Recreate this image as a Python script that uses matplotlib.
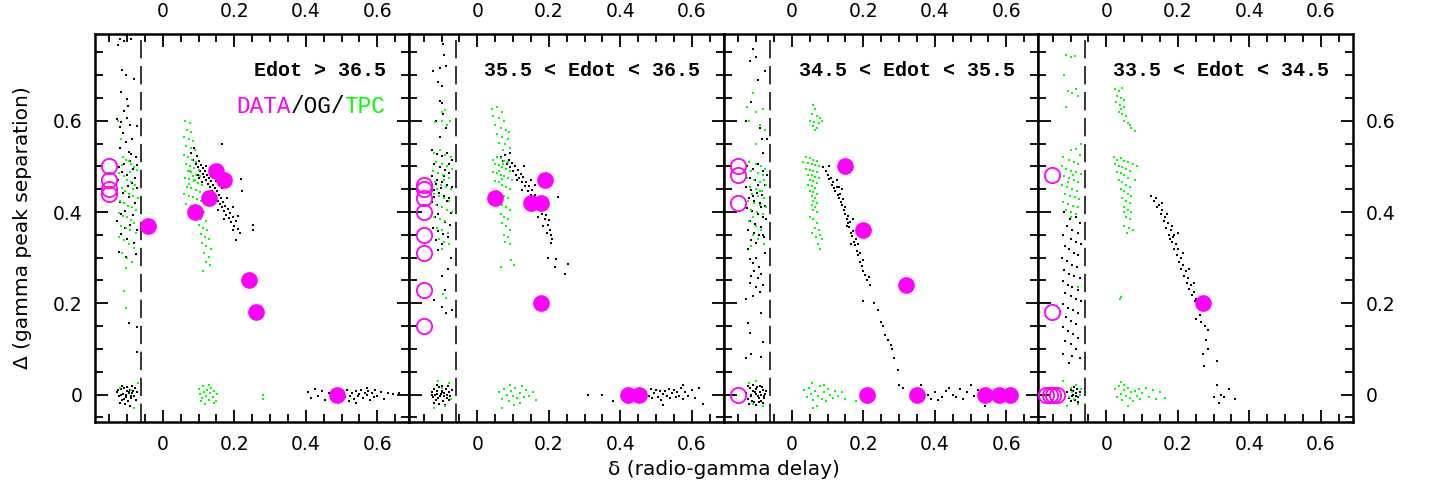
import matplotlib
matplotlib.use("Agg")
import matplotlib.pyplot as plt
from matplotlib.ticker import MultipleLocator, FuncFormatter

panel_titles = ["Edot > 36.5", "35.5 < Edot < 36.5", "34.5 < Edot < 35.5", "33.5 < Edot < 34.5"]

# ---- observed pulsars (DATA): filled = radio loud, open = radio quiet (plotted left of dashed line)
data1_fill = [(-0.042, 0.37), (0.091, 0.40), (0.13, 0.43), (0.149, 0.49), (0.17, 0.47),
              (0.24, 0.25), (0.26, 0.18), (0.488, 0.0)]
data1_open = [(-0.15, 0.50), (-0.15, 0.47), (-0.15, 0.45), (-0.15, 0.44)]
data2_fill = [(0.05, 0.43), (0.149, 0.42), (0.179, 0.42), (0.19, 0.47), (0.179, 0.20),
              (0.422, 0.0), (0.451, 0.0)]
data2_open = [(-0.15, 0.46), (-0.15, 0.45), (-0.15, 0.43), (-0.15, 0.40), (-0.15, 0.35),
              (-0.15, 0.31), (-0.15, 0.23), (-0.15, 0.15)]
data3_fill = [(0.15, 0.50), (0.20, 0.36), (0.32, 0.24), (0.21, 0.0), (0.35, 0.0),
              (0.54, 0.0), (0.58, 0.0), (0.61, 0.0)]
data3_open = [(-0.15, 0.50), (-0.15, 0.48), (-0.15, 0.42), (-0.15, 0.0)]
data4_fill = [(0.27, 0.20)]
data4_open = [(-0.152, 0.48), (-0.152, 0.18), (-0.168, 0.0), (-0.158, 0.0), (-0.148, 0.0), (-0.138, 0.0)]

# ---- Edot > 36.5 simulated
og1_left = [(-0.12,0.78),(-0.11,0.775),(-0.10,0.785),(-0.125,0.765),(-0.09,0.78),(-0.113,0.712),(-0.104,0.70),
            (-0.082,0.692),(-0.117,0.662),(-0.10,0.648),(-0.098,0.633),(-0.11,0.622),(-0.128,0.603),(-0.116,0.598),
            (-0.101,0.606),(-0.121,0.586),(-0.092,0.591),(-0.072,0.589),(-0.111,0.572),(-0.104,0.553),(-0.087,0.561),
            (-0.119,0.541),(-0.096,0.532),(-0.076,0.521),(-0.091,0.512),(-0.109,0.506),(-0.124,0.498),(-0.083,0.494),
            (-0.071,0.502),(-0.101,0.482),(-0.126,0.471),(-0.086,0.463),(-0.073,0.452),(-0.112,0.441),(-0.094,0.432),
            (-0.121,0.421),(-0.077,0.419),(-0.106,0.402),(-0.084,0.394),(-0.127,0.381),(-0.091,0.372),(-0.071,0.361),
            (-0.116,0.352),(-0.099,0.341),(-0.081,0.332),(-0.122,0.312),(-0.075,0.308),(-0.102,0.301),(-0.113,0.488),
            (-0.097,0.458),(-0.118,0.395),(-0.088,0.527),(-0.105,0.365),(-0.079,0.475),(-0.096,0.156),(-0.072,0.148),
            (-0.071,0.094)]
og1_zero_left = [(-0.128,0.005),(-0.122,-0.004),(-0.118,0.012),(-0.115,-0.012),(-0.111,0.002),(-0.108,0.015),
                 (-0.104,-0.006),(-0.101,0.008),(-0.097,-0.015),(-0.094,0.003),(-0.091,0.011),(-0.088,-0.008),
                 (-0.085,0.004),(-0.082,-0.002),(-0.079,0.014),(-0.076,-0.011),(-0.073,0.006),(-0.12,-0.018),
                 (-0.113,0.019),(-0.106,-0.021),(-0.099,0.016),(-0.093,-0.024),(-0.087,0.018),(-0.125,0.010),
                 (-0.117,-0.001),(-0.109,-0.009),(-0.102,0.000),(-0.096,0.006),(-0.089,-0.003),(-0.083,0.009)]
og1_mid = [(0.080,0.530),(0.085,0.515),(0.088,0.540),(0.092,0.505),(0.095,0.522),(0.098,0.498),(0.102,0.512),
           (0.105,0.490),(0.108,0.503),(0.111,0.484),(0.113,0.497),(0.116,0.476),(0.118,0.489),(0.121,0.470),
           (0.124,0.482),(0.126,0.462),(0.129,0.474),(0.132,0.455),(0.135,0.468),(0.137,0.447),(0.140,0.460),
           (0.143,0.440),(0.146,0.452),(0.148,0.432),(0.151,0.445),(0.154,0.425),(0.157,0.437),(0.160,0.418),
           (0.163,0.430),(0.166,0.410),(0.169,0.422),(0.172,0.402),(0.175,0.414),(0.178,0.394),(0.181,0.406),
           (0.184,0.386),(0.188,0.398),(0.192,0.378),(0.196,0.388),(0.200,0.370),(0.205,0.380),(0.210,0.362),
           (0.215,0.355),(0.150,0.468),(0.165,0.452),(0.180,0.430),(0.195,0.410),(0.210,0.392),(0.130,0.440),
           (0.110,0.465),(0.166,0.548),(0.219,0.472),(0.222,0.445),(0.251,0.371),(0.251,0.360),(0.100,0.475),
           (0.140,0.428),(0.197,0.360),(0.205,0.338),(0.170,0.385),(0.155,0.405),(0.120,0.500),(0.097,0.480)]
og1_zero_right = [(0.405,0.005),(0.415,-0.008),(0.425,0.012),(0.435,-0.003),(0.445,0.008),(0.455,-0.012),
                  (0.465,0.003),(0.50,0.006),(0.51,-0.006),(0.515,0.010),(0.525,-0.002),(0.53,0.004),(0.535,-0.010),
                  (0.54,0.007),(0.545,-0.004),(0.55,0.002),(0.555,0.011),(0.56,-0.007),(0.565,0.004),(0.57,-0.001),
                  (0.575,0.009),(0.58,-0.012),(0.585,0.003),(0.59,-0.005),(0.595,0.010),(0.60,-0.002),(0.61,0.006),
                  (0.62,-0.009),(0.63,0.004),(0.645,0.001),(0.66,0.003),(0.54,-0.018),(0.57,0.015),(0.52,-0.015)]
tpc1_left = [(-0.125,0.600),(-0.118,0.560),(-0.112,0.520),(-0.104,0.515),(-0.096,0.512),(-0.088,0.505),(-0.08,0.498),
             (-0.073,0.492),(-0.122,0.485),(-0.11,0.478),(-0.1,0.47),(-0.09,0.465),(-0.078,0.46),(-0.115,0.452),
             (-0.106,0.445),(-0.094,0.44),(-0.084,0.435),(-0.07,0.43),(-0.12,0.425),(-0.108,0.42),(-0.098,0.414),
             (-0.086,0.41),(-0.076,0.405),(-0.124,0.398),(-0.112,0.392),(-0.1,0.388),(-0.09,0.382),(-0.08,0.376),
             (-0.118,0.37),(-0.104,0.365),(-0.092,0.36),(-0.074,0.355),(-0.122,0.345),(-0.11,0.338),(-0.096,0.33),
             (-0.082,0.322),(-0.114,0.31),(-0.1,0.3),(-0.086,0.29),(-0.102,0.278),(-0.109,0.226),(-0.103,0.19),
             (-0.092,0.487),(-0.115,0.502),(-0.083,0.45),(-0.128,0.44)]
tpc1_mid = [(0.062,0.600),(0.075,0.595),(0.068,0.58),(0.08,0.575),(0.058,0.565),(0.072,0.56),(0.085,0.555),
            (0.064,0.545),(0.078,0.54),(0.09,0.535),(0.06,0.525),(0.07,0.52),(0.082,0.515),(0.094,0.51),(0.066,0.505),
            (0.076,0.5),(0.088,0.497),(0.1,0.492),(0.07,0.49),(0.08,0.487),(0.092,0.482),(0.104,0.478),(0.062,0.475),
            (0.074,0.472),(0.086,0.468),(0.098,0.463),(0.11,0.46),(0.068,0.455),(0.08,0.452),(0.092,0.448),
            (0.104,0.444),(0.058,0.44),(0.072,0.436),(0.084,0.432),(0.096,0.428),(0.108,0.424),(0.066,0.418),
            (0.078,0.414),(0.09,0.41),(0.102,0.405),(0.114,0.4),(0.082,0.395),(0.096,0.39),(0.108,0.385),(0.12,0.38),
            (0.1,0.372),(0.112,0.365),(0.124,0.36),(0.106,0.352),(0.118,0.345),(0.13,0.34),(0.11,0.332),(0.122,0.325),
            (0.134,0.318),(0.116,0.31),(0.128,0.302),(0.12,0.29),(0.132,0.285),(0.112,0.27),(0.075,0.49),(0.085,0.478),
            (0.072,0.462),(0.09,0.47)]
tpc1_zero = [(0.100,0.012),(0.105,0.002),(0.11,-0.008),(0.112,0.018),(0.116,0.006),(0.12,-0.004),(0.124,0.01),
             (0.128,-0.012),(0.132,0.003),(0.136,0.015),(0.14,-0.006),(0.144,0.007),(0.148,-0.015),(0.152,0.002),
             (0.118,-0.02),(0.13,0.02),(0.142,-0.018),(0.108,-0.014),(0.28,0.0),(0.28,-0.01),(-0.07,0.025),
             (-0.08,-0.03),(-0.12,0.015),(-0.09,0.01)]

# ---- 35.5 < Edot < 36.5 simulated
og2_left = [(-0.124,0.709),(-0.105,0.716),(-0.093,0.744),(-0.096,0.767),(-0.089,0.72),(-0.11,0.684),(-0.1,0.676),
            (-0.105,0.644),(-0.098,0.638),(-0.096,0.615),(-0.087,0.585),(-0.105,0.564),(-0.115,0.60),
            (-0.126,0.535),(-0.112,0.528),(-0.098,0.522),(-0.084,0.530),(-0.072,0.515),(-0.12,0.505),(-0.105,0.498),
            (-0.09,0.492),(-0.078,0.486),(-0.128,0.478),(-0.114,0.47),(-0.1,0.466),(-0.086,0.46),(-0.071,0.455),
            (-0.122,0.448),(-0.108,0.442),(-0.094,0.436),(-0.08,0.43),(-0.126,0.422),(-0.112,0.416),(-0.098,0.41),
            (-0.084,0.404),(-0.074,0.398),(-0.118,0.39),(-0.104,0.384),(-0.09,0.378),(-0.076,0.372),(-0.124,0.365),
            (-0.11,0.358),(-0.096,0.352),(-0.082,0.346),(-0.116,0.338),(-0.1,0.33),(-0.086,0.425),(-0.117,0.462),
            (-0.103,0.452),(-0.092,0.478),(-0.079,0.505),(-0.11,0.395),(-0.121,0.432),(-0.11,0.316),(-0.082,0.276),
            (-0.1,0.26),(-0.091,0.229),(-0.12,0.207),(-0.1,0.193),(-0.087,0.178),(-0.072,0.185),(-0.075,0.30)]
og2_zero_left = [(-0.128,0.006),(-0.124,-0.006),(-0.12,0.012),(-0.116,-0.012),(-0.112,0.002),(-0.108,0.016),
                 (-0.104,-0.004),(-0.1,0.009),(-0.096,-0.014),(-0.092,0.004),(-0.088,0.013),(-0.084,-0.008),
                 (-0.08,0.006),(-0.076,-0.002),(-0.072,0.01),(-0.122,-0.018),(-0.114,0.02),(-0.106,-0.02),
                 (-0.098,0.018),(-0.09,-0.022),(-0.082,0.018),(-0.118,0.0),(-0.11,-0.008),(-0.102,0.001),
                 (-0.094,-0.004),(-0.086,0.0),(-0.078,-0.012),(-0.126,0.0),(-0.099,0.005),(-0.113,0.009)]
og2_mid = [(0.065,0.52),(0.072,0.512),(0.078,0.525),(0.083,0.505),(0.088,0.515),(0.092,0.498),(0.097,0.508),
           (0.101,0.49),(0.105,0.5),(0.109,0.482),(0.113,0.492),(0.117,0.474),(0.121,0.484),(0.125,0.465),
           (0.129,0.476),(0.133,0.456),(0.137,0.466),(0.141,0.447),(0.145,0.457),(0.149,0.437),(0.153,0.448),
           (0.157,0.428),(0.161,0.438),(0.165,0.418),(0.169,0.428),(0.173,0.408),(0.177,0.418),(0.181,0.396),
           (0.185,0.406),(0.189,0.384),(0.193,0.394),(0.197,0.372),(0.2,0.382),(0.203,0.36),(0.206,0.35),(0.21,0.34),
           (0.205,0.332),(0.195,0.355),(0.183,0.37),(0.17,0.39),(0.155,0.41),(0.14,0.43),(0.125,0.448),(0.11,0.47),
           (0.197,0.30),(0.22,0.298),(0.216,0.28),(0.244,0.265),(0.253,0.287),(0.225,0.433),(0.13,0.5),(0.15,0.47),
           (0.16,0.46),(0.09,0.53)]
og2_zero_right = [(0.31,0.0),(0.35,0.0),(0.38,-0.013),(0.44,0.003),(0.455,-0.01),(0.47,0.008),(0.48,-0.003),
                  (0.485,0.012),(0.49,-0.008),(0.495,0.004),(0.5,0.01),(0.505,-0.005),(0.51,0.007),(0.515,-0.012),
                  (0.52,0.002),(0.525,0.009),(0.53,-0.004),(0.535,0.013),(0.54,-0.008),(0.545,0.003),(0.55,0.011),
                  (0.555,-0.006),(0.56,0.005),(0.565,-0.002),(0.57,0.014),(0.575,-0.01),(0.58,0.006),(0.59,-0.004),
                  (0.6,0.01),(0.61,-0.008),(0.62,0.015),(0.63,-0.02),(0.52,-0.022),(0.575,0.02)]
tpc2_left = [(-0.1,0.62),(-0.091,0.624),(-0.077,0.6),(-0.118,0.597),(-0.086,0.59),(-0.1,0.6),
             (-0.12,0.53),(-0.105,0.535),(-0.09,0.525),(-0.075,0.52),(-0.115,0.51),(-0.1,0.505),(-0.085,0.5),
             (-0.07,0.495),(-0.125,0.49),(-0.11,0.485),(-0.095,0.48),(-0.08,0.475),(-0.118,0.465),(-0.103,0.46),
             (-0.088,0.455),(-0.073,0.45),(-0.122,0.44),(-0.107,0.435),(-0.092,0.43),(-0.078,0.425),(-0.115,0.415),
             (-0.1,0.41),(-0.085,0.405),(-0.07,0.4),(-0.12,0.39),(-0.105,0.385),(-0.09,0.38),(-0.113,0.365),
             (-0.098,0.36),(-0.083,0.355),(-0.107,0.34),(-0.092,0.335),(-0.078,0.33),(-0.1,0.32),(-0.096,0.22),
             (-0.087,0.212),(-0.094,0.47),(-0.112,0.45)]
tpc2_mid = [(0.04,0.625),(0.055,0.63),(0.07,0.62),(0.045,0.61),(0.06,0.605),(0.075,0.6),(0.05,0.59),(0.065,0.585),
            (0.08,0.58),(0.088,0.575),(0.055,0.57),(0.07,0.565),(0.085,0.56),(0.06,0.552),(0.078,0.548),(0.09,0.54),
            (0.072,0.535),(0.045,0.515),(0.055,0.52),(0.065,0.518),(0.075,0.512),(0.085,0.51),(0.05,0.505),
            (0.06,0.502),(0.07,0.498),(0.08,0.495),(0.092,0.49),(0.045,0.488),(0.055,0.485),(0.065,0.482),
            (0.075,0.478),(0.085,0.475),(0.098,0.47),(0.05,0.468),(0.06,0.465),(0.07,0.46),(0.08,0.455),(0.09,0.45),
            (0.055,0.445),(0.065,0.44),(0.075,0.435),(0.085,0.43),(0.06,0.42),(0.07,0.415),(0.08,0.41),(0.09,0.405),
            (0.065,0.395),(0.075,0.39),(0.085,0.385),(0.07,0.375),(0.08,0.37),(0.09,0.36),(0.075,0.35),(0.085,0.345),
            (0.078,0.335),(0.09,0.33),(0.067,0.28),(0.095,0.295),(0.103,0.285),(0.06,0.49),(0.072,0.505),(0.068,0.472)]
tpc2_zero = [(0.06,0.005),(0.068,-0.01),(0.075,0.012),(0.082,0.0),(0.088,-0.015),(0.095,0.008),(0.1,-0.004),
             (0.106,0.015),(0.112,-0.008),(0.118,0.004),(0.124,0.018),(0.13,-0.006),(0.136,0.01),(0.145,-0.003),
             (0.155,0.006),(0.165,-0.012),(0.092,0.022),(0.103,-0.022),(0.07,-0.03),(0.12,-0.018),(-0.11,0.03),
             (-0.12,-0.03),(-0.08,0.025),(-0.09,-0.025),(-0.1,0.015),(-0.075,-0.01)]

# ---- 34.5 < Edot < 35.5 simulated
og3_left = [(-0.109,0.756),(-0.118,0.731),(-0.101,0.74),(-0.076,0.709),(-0.095,0.69),(-0.113,0.64),(-0.127,0.6),
            (-0.09,0.585),(-0.083,0.56),(-0.07,0.56),(-0.08,0.53),(-0.125,0.50),(-0.11,0.495),(-0.095,0.505),
            (-0.08,0.49),(-0.07,0.48),(-0.118,0.475),(-0.102,0.47),(-0.088,0.465),(-0.074,0.46),(-0.128,0.455),
            (-0.113,0.448),(-0.097,0.442),(-0.083,0.437),(-0.12,0.43),(-0.105,0.425),(-0.09,0.42),(-0.076,0.414),
            (-0.126,0.408),(-0.111,0.402),(-0.096,0.396),(-0.081,0.39),(-0.071,0.385),(-0.117,0.38),(-0.102,0.374),
            (-0.087,0.368),(-0.122,0.36),(-0.107,0.355),(-0.092,0.35),(-0.078,0.345),(-0.115,0.338),(-0.1,0.332),
            (-0.085,0.41),(-0.095,0.46),(-0.11,0.435),(-0.08,0.35),(-0.118,0.296),(-0.109,0.288),(-0.1,0.3),
            (-0.091,0.28),(-0.105,0.27),(-0.113,0.26),(-0.095,0.255),(-0.085,0.265),(-0.118,0.245),(-0.1,0.235),
            (-0.09,0.225),(-0.11,0.215),(-0.08,0.24),(-0.075,0.31),(-0.122,0.32),(-0.127,0.21),(-0.085,0.178),
            (-0.122,0.156),(-0.118,0.134),(-0.081,0.116),(-0.127,0.08),(-0.113,0.09),(-0.085,0.083)]
og3_zero_left = [(-0.128,0.004),(-0.122,-0.01),(-0.118,0.014),(-0.113,-0.004),(-0.109,0.008),(-0.105,-0.016),
                 (-0.101,0.002),(-0.097,0.016),(-0.093,-0.008),(-0.089,0.006),(-0.085,-0.013),(-0.081,0.011),
                 (-0.077,-0.002),(-0.073,0.009),(-0.119,-0.02),(-0.108,0.02),(-0.099,-0.022),(-0.09,0.019),
                 (-0.082,-0.019),(-0.115,0.0),(-0.104,0.005),(-0.095,-0.003),(-0.087,0.0),(-0.079,-0.007),
                 (-0.124,0.018),(-0.112,-0.014),(-0.1,0.012),(-0.092,-0.016),(-0.084,0.016),(-0.075,0.002)]
og3_mid = [(0.087,0.498),(0.095,0.49),(0.1,0.48),(0.105,0.472),(0.11,0.475),(0.112,0.46),(0.116,0.465),(0.118,0.452),
           (0.122,0.445),(0.125,0.455),(0.128,0.438),(0.131,0.43),(0.134,0.44),(0.137,0.422),(0.14,0.415),
           (0.142,0.428),(0.145,0.405),(0.148,0.41),(0.15,0.395),(0.153,0.385),(0.156,0.392),(0.158,0.375),
           (0.161,0.368),(0.164,0.378),(0.166,0.355),(0.169,0.348),(0.172,0.358),(0.175,0.335),(0.178,0.328),
           (0.18,0.34),(0.183,0.315),(0.186,0.305),(0.19,0.31),(0.192,0.29),(0.195,0.282),(0.198,0.295),(0.2,0.27),
           (0.205,0.262),(0.21,0.25),(0.215,0.258),(0.22,0.24),(0.2,0.205),(0.23,0.2),(0.24,0.185),(0.25,0.16),
           (0.254,0.15),(0.26,0.13),(0.27,0.12),(0.277,0.109),(0.28,0.1),(0.285,0.08),(0.296,0.055),(0.31,0.015),
           (0.17,0.385),(0.14,0.45),(0.125,0.47),(0.155,0.37),(0.185,0.33),(0.165,0.33),(0.132,0.455),(0.105,0.5)]
og3_zero_right = [(0.36,0.01),(0.37,-0.008),(0.38,0.0),(0.39,-0.01),(0.4,0.005),(0.41,-0.012),(0.42,-0.006),
                  (0.43,0.008),(0.44,0.015),(0.45,0.0),(0.46,-0.005),(0.47,0.012),(0.48,-0.01),(0.49,0.006),
                  (0.5,0.02),(0.51,-0.003),(0.52,0.01),(0.53,-0.015),(0.54,-0.025),(0.55,0.005),(0.36,0.022),(0.3,0.02)]
tpc3_left = [(-0.11,0.66),(-0.125,0.63),(-0.1,0.62),(-0.08,0.625),(-0.12,0.6),(-0.09,0.59),(-0.075,0.58),(-0.1,0.55),
             (-0.12,0.51),(-0.1,0.505),(-0.085,0.50),(-0.075,0.495),(-0.115,0.49),(-0.095,0.485),(-0.08,0.48),
             (-0.125,0.475),(-0.105,0.47),(-0.09,0.465),(-0.072,0.46),(-0.118,0.455),(-0.1,0.45),(-0.083,0.445),
             (-0.112,0.44),(-0.094,0.435),(-0.077,0.43),(-0.122,0.425),(-0.105,0.42),(-0.088,0.415),(-0.073,0.41),
             (-0.115,0.405),(-0.098,0.40),(-0.082,0.395),(-0.108,0.39),(-0.09,0.445),(-0.078,0.47),(-0.12,0.38),
             (-0.1,0.37),(-0.085,0.36),(-0.11,0.35),(-0.095,0.34),(-0.078,0.33),(-0.115,0.325)]
tpc3_mid = [(0.06,0.635),(0.065,0.625),(0.055,0.615),(0.07,0.61),(0.08,0.605),(0.05,0.6),(0.062,0.598),(0.075,0.595),
            (0.085,0.6),(0.058,0.588),(0.07,0.585),(0.065,0.58),(0.04,0.52),(0.05,0.518),(0.06,0.515),(0.07,0.512),
            (0.045,0.508),(0.055,0.505),(0.065,0.502),(0.075,0.5),(0.04,0.495),(0.05,0.492),(0.06,0.49),(0.07,0.487),
            (0.045,0.482),(0.055,0.48),(0.065,0.477),(0.075,0.474),(0.05,0.47),(0.06,0.467),(0.07,0.464),(0.045,0.46),
            (0.055,0.456),(0.065,0.452),(0.05,0.447),(0.06,0.443),(0.07,0.44),(0.055,0.435),(0.065,0.43),(0.06,0.424),
            (0.07,0.42),(0.055,0.415),(0.065,0.41),(0.06,0.405),(0.07,0.4),(0.03,0.51),(0.05,0.39),(0.06,0.385),
            (0.07,0.375),(0.065,0.365),(0.075,0.36),(0.055,0.355),(0.08,0.35),(0.068,0.345),(0.085,0.34),(0.072,0.33),
            (0.078,0.32)]
tpc3_zero = [(0.035,0.01),(0.042,-0.006),(0.048,0.015),(0.054,0.002),(0.06,-0.012),(0.066,0.008),(0.072,-0.003),
             (0.078,0.018),(0.084,-0.009),(0.09,0.005),(0.096,-0.015),(0.102,0.012),(0.108,0.0),(0.115,-0.007),
             (0.122,0.009),(0.13,-0.004),(0.14,0.006),(0.15,-0.01),(0.055,0.025),(0.07,-0.025),(0.09,0.022),
             (0.06,-0.03),(0.18,-0.015),(-0.12,0.025),(-0.1,0.03),(-0.08,-0.025),(-0.11,-0.02)]

# ---- 33.5 < Edot < 34.5 simulated
og4_left = [(-0.118,0.40),(-0.103,0.385),(-0.085,0.39),(-0.075,0.375),(-0.11,0.37),(-0.095,0.36),(-0.08,0.355),
            (-0.12,0.35),(-0.1,0.34),(-0.085,0.335),(-0.072,0.33),(-0.115,0.325),(-0.105,0.318),(-0.09,0.31),
            (-0.078,0.305),(-0.123,0.3),(-0.11,0.292),(-0.097,0.285),(-0.083,0.28),(-0.118,0.272),(-0.104,0.265),
            (-0.09,0.26),(-0.075,0.255),(-0.122,0.248),(-0.108,0.24),(-0.095,0.235),(-0.08,0.23),(-0.115,0.222),
            (-0.1,0.215),(-0.086,0.21),(-0.072,0.205),(-0.12,0.198),(-0.106,0.19),(-0.092,0.185),(-0.078,0.178),
            (-0.112,0.17),(-0.098,0.162),(-0.084,0.155),(-0.122,0.148),(-0.108,0.14),(-0.094,0.132),(-0.078,0.125),
            (-0.115,0.118),(-0.1,0.11),(-0.085,0.1),(-0.12,0.09),(-0.095,0.085),(-0.105,0.07),(-0.075,0.08)]
og4_zero_left = [(-0.11,0.005),(-0.105,-0.008),(-0.1,0.01),(-0.096,-0.002),(-0.092,0.007),(-0.088,-0.012),
                 (-0.085,0.003),(-0.082,0.012),(-0.078,-0.005),(-0.075,0.006),(-0.098,-0.015),(-0.09,0.016),
                 (-0.08,-0.016),(-0.094,0.0),(-0.086,-0.004)]
og4_mid = [(0.126,0.436),(0.132,0.425),(0.138,0.43),(0.142,0.41),(0.148,0.415),(0.152,0.395),(0.156,0.405),
           (0.16,0.38),(0.165,0.39),(0.168,0.365),(0.172,0.375),(0.175,0.35),(0.18,0.36),(0.183,0.335),(0.187,0.345),
           (0.19,0.32),(0.194,0.33),(0.197,0.305),(0.2,0.318),(0.204,0.29),(0.208,0.3),(0.21,0.275),(0.214,0.285),
           (0.218,0.26),(0.222,0.27),(0.225,0.245),(0.229,0.255),(0.232,0.232),(0.236,0.24),(0.24,0.218),
           (0.244,0.225),(0.248,0.205),(0.252,0.21),(0.256,0.19),(0.26,0.195),(0.262,0.175),(0.25,0.165),
           (0.266,0.16),(0.275,0.15),(0.284,0.142),(0.28,0.12),(0.285,0.1),(0.27,0.09),(0.274,0.062),(0.309,0.073),
           (0.17,0.395),(0.2,0.353),(0.185,0.37),(0.215,0.31),(0.155,0.42),(0.23,0.275),(0.245,0.245),(0.19,0.35),
           (0.178,0.34)]
og4_zero_right = [(0.31,0.02),(0.342,0.012),(0.32,0.0),(0.3,-0.005),(0.36,-0.01),(0.315,-0.018),(0.33,-0.005)]
tpc4_left = [(-0.112,0.745),(-0.098,0.74),(-0.088,0.742),(-0.118,0.7),(-0.108,0.665),(-0.085,0.67),(-0.079,0.655),
             (-0.112,0.63),(-0.095,0.66),(-0.07,0.55),(-0.1,0.535),(-0.085,0.538),(-0.075,0.525),(-0.12,0.52),
             (-0.105,0.515),(-0.09,0.51),(-0.078,0.505),(-0.125,0.5),(-0.112,0.495),(-0.098,0.49),(-0.084,0.487),
             (-0.072,0.483),(-0.118,0.478),(-0.104,0.474),(-0.09,0.47),(-0.08,0.465),(-0.124,0.46),(-0.11,0.455),
             (-0.096,0.45),(-0.082,0.445),(-0.116,0.44),(-0.102,0.436),(-0.088,0.432),(-0.076,0.428),(-0.12,0.422),
             (-0.106,0.418),(-0.092,0.414),(-0.08,0.41),(-0.112,0.405),(-0.098,0.4),(-0.086,0.395),(-0.1,0.39),
             (-0.079,0.236),(-0.094,0.48),(-0.108,0.465)]
tpc4_mid = [(0.025,0.67),(0.035,0.665),(0.045,0.672),(0.03,0.655),(0.04,0.65),(0.05,0.645),(0.028,0.64),
            (0.038,0.635),(0.048,0.63),(0.035,0.62),(0.045,0.615),(0.055,0.61),(0.05,0.6),(0.06,0.595),(0.065,0.59),
            (0.07,0.585),(0.079,0.578),(0.04,0.625),(0.02,0.52),(0.03,0.515),(0.04,0.518),(0.05,0.512),(0.06,0.51),
            (0.075,0.505),(0.025,0.505),(0.035,0.5),(0.045,0.498),(0.055,0.495),(0.065,0.49),(0.03,0.488),(0.04,0.485),
            (0.05,0.48),(0.06,0.475),(0.035,0.47),(0.045,0.465),(0.055,0.46),(0.065,0.455),(0.04,0.45),(0.05,0.445),
            (0.06,0.44),(0.07,0.435),(0.045,0.43),(0.055,0.425),(0.065,0.42),(0.05,0.41),(0.06,0.405),(0.07,0.4),
            (0.055,0.39),(0.065,0.385),(0.05,0.37),(0.062,0.365),(0.075,0.36),(0.058,0.355),(0.05,0.4),(0.037,0.21),
            (0.042,0.214),(0.085,0.50),(0.08,0.47)]
tpc4_zero = [(0.025,0.012),(0.03,-0.005),(0.035,0.018),(0.04,0.002),(0.045,-0.012),(0.05,0.01),(0.055,-0.002),
             (0.06,0.015),(0.065,-0.008),(0.07,0.005),(0.075,-0.015),(0.08,0.008),(0.085,-0.004),(0.09,0.012),
             (0.095,-0.01),(0.1,0.003),(0.11,0.014),(0.12,-0.006),(0.13,0.01),(0.14,-0.01),(0.15,0.005),(0.163,-0.008),
             (0.04,0.028),(0.06,-0.025),(0.05,0.022),(-0.12,0.03),(-0.11,-0.025),(-0.1,0.015),(-0.09,-0.01),
             (-0.085,0.02),(-0.075,0.0),(-0.095,0.005),(-0.08,-0.02),(-0.105,-0.005),(-0.07,0.012)]

og_sets = [og1_left + og1_zero_left + og1_mid + og1_zero_right,
           og2_left + og2_zero_left + og2_mid + og2_zero_right,
           og3_left + og3_zero_left + og3_mid + og3_zero_right,
           og4_left + og4_zero_left + og4_mid + og4_zero_right]
tpc_sets = [tpc1_left + tpc1_mid + tpc1_zero,
            tpc2_left + tpc2_mid + tpc2_zero,
            tpc3_left + tpc3_mid + tpc3_zero,
            tpc4_left + tpc4_mid + tpc4_zero]
fill_sets = [data1_fill, data2_fill, data3_fill, data4_fill]
open_sets = [data1_open, data2_open, data3_open, data4_open]

MAG = "#ff00ff"
GRN = "#00ff00"
plt.rcParams["font.family"] = "DejaVu Sans"

fig, axes = plt.subplots(1, 4, figsize=(14.32, 4.91), dpi=100, sharey=True)
fig.subplots_adjust(left=0.0663, right=0.9448, bottom=0.1405, top=0.9308, wspace=0)
fmt = FuncFormatter(lambda v, p: f"{v:g}")

for i, ax in enumerate(axes):
    og = og_sets[i]
    tp = tpc_sets[i]
    ax.scatter([p[0] for p in og], [p[1] for p in og], s=3.5, marker="s", c="k", linewidths=0, zorder=2)
    ax.scatter([p[0] for p in tp], [p[1] for p in tp], s=3.5, marker="s", c=GRN, linewidths=0, zorder=2)
    ax.axvline(-0.06, color="k", lw=1.1, dashes=(12, 5), zorder=3)
    fl = fill_sets[i]
    ax.plot([p[0] for p in fl], [p[1] for p in fl], "o", ms=11, mfc=MAG, mec=MAG, zorder=4)
    op = open_sets[i]
    ax.plot([p[0] for p in op], [p[1] for p in op], "o", ms=11, mfc="none", mec=MAG, mew=1.3, zorder=4)

    ax.set_xlim(-0.19, 0.69)
    ax.set_ylim(-0.06, 0.79)
    ax.xaxis.set_major_locator(MultipleLocator(0.2))
    ax.xaxis.set_minor_locator(MultipleLocator(0.05))
    ax.yaxis.set_major_locator(MultipleLocator(0.2))
    ax.yaxis.set_minor_locator(MultipleLocator(0.05))
    ax.xaxis.set_major_formatter(fmt)
    ax.yaxis.set_major_formatter(fmt)
    ax.tick_params(which="both", direction="in", top=True, right=True, labeltop=True, labelbottom=True,
                   labelsize=13.5, width=1.3)
    ax.tick_params(which="major", length=9, pad=9)
    ax.tick_params(which="minor", length=6)
    ax.tick_params(axis="y", labelleft=(i == 0), labelright=(i == 3))
    for s in ax.spines.values():
        s.set_linewidth(1.8)

    ax.text(0.924, 0.907, panel_titles[i], transform=ax.transAxes, ha="right", va="center",
            family="Liberation Mono", fontsize=14.4, fontweight="bold")

# legend line in the first panel, coloured word by word (monospace: one char = 0.043 of panel width)
leg_parts = [("DATA", MAG, 0.449), ("/OG/", "k", 0.621), ("TPC", GRN, 0.793)]
for txt, col, xpos in leg_parts:
    axes[0].text(xpos, 0.813, txt, transform=axes[0].transAxes, ha="left", va="center",
                 family="Liberation Mono", fontsize=16.3, color=col)

fig.text(0.016, 0.537, "Δ (gamma peak separation)", rotation=90, ha="center", va="center", fontsize=14.5)
fig.text(0.5056, 0.043, "δ (radio-gamma delay)", ha="center", va="center", fontsize=14.5)

fig.savefig("out.png", dpi=100)
